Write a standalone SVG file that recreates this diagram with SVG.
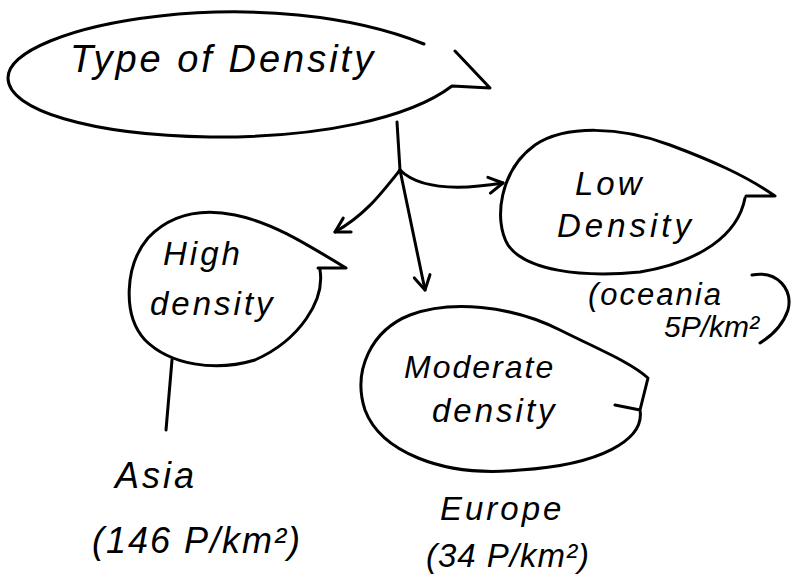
<svg xmlns="http://www.w3.org/2000/svg" width="796" height="582" viewBox="0 0 796 582">
<defs>
<marker id="ah" viewBox="0 0 20 20" refX="16" refY="10" markerWidth="20" markerHeight="20" markerUnits="userSpaceOnUse" orient="auto">
<path d="M2,2 L16,10 L2,18" fill="none" stroke="#000" stroke-width="3" stroke-linecap="round" stroke-linejoin="round"/>
</marker>
<style>
.s{fill:none;stroke:#000;stroke-width:3;stroke-linecap:round;stroke-linejoin:round}
.t{font-family:"Liberation Sans",sans-serif;font-style:italic;fill:#000;font-size:33px;letter-spacing:3px}
</style>
</defs>
<rect width="796" height="582" fill="#fff"/>
<g id="type-of-density">
<path class="s" d="M424,44 C350,14 250,6 160,16 C70,26 8,52 8,78 C8,110 90,135 210,137 C320,138 410,118 452,86 L490,88 L455,51"/>
<text class="t" x="70" y="72" style="font-size:38px">Type of Density</text>
</g>
<g id="high-density">
<path class="s" d="M320,270 C325,300 300,340 255,360 C215,372 170,365 145,340 C122,315 125,265 148,238 C170,215 200,208 235,215 C270,222 300,240 346,268 L318,268"/>
<text class="t" x="163" y="265">High</text>
<text class="t" x="150" y="315">density</text>
</g>
<g id="low-density">
<path class="s" d="M745,198 C738,235 700,262 640,272 C580,278 525,270 508,245 C493,220 500,170 535,145 C565,125 620,126 670,145 C710,160 745,175 775,196 L746,196"/>
<text class="t" x="575" y="195">Low</text>
<text class="t" x="557" y="237" style="letter-spacing:4px">Density</text>
</g>
<g id="moderate-density">
<path class="s" d="M615,405 L640,410 C645,440 600,465 520,470 C440,478 380,450 365,410 C352,370 372,330 410,315 C450,300 510,305 560,330 C600,350 630,362 648,378 L640,410"/>
<text class="t" x="404" y="378" style="font-size:32px;letter-spacing:2px">Moderate</text>
<text class="t" x="432" y="422">density</text>
</g>
<g id="asia">
<text class="t" x="115" y="488" style="font-size:36px">Asia</text>
<text class="t" x="92" y="553" style="font-size:36px;letter-spacing:2px">(146 P/km²)</text>
</g>
<g id="europe">
<text class="t" x="440" y="520">Europe</text>
<text class="t" x="426" y="567" style="letter-spacing:1px">(34 P/km²)</text>
</g>
<g id="oceania">
<text class="t" x="588" y="305" style="font-size:31px;letter-spacing:2px">(oceania</text>
<text class="t" x="664" y="337" style="font-size:30px;letter-spacing:0px">5P/km²</text>
<path class="s" d="M752,275 C778,270 793,290 788,310 C783,325 773,335 760,343"/>
</g>
<g id="connectors">
<path class="s" d="M397,122 L400,170"/>
<path class="s" d="M400,170 C380,195 365,215 335,232" marker-end="url(#ah)"/>
<path class="s" d="M400,170 C420,190 460,190 503,183" marker-end="url(#ah)"/>
<path class="s" d="M400,170 L425,290" marker-end="url(#ah)"/>
<path class="s" d="M172,360 L166,430"/>
</g>
</svg>
